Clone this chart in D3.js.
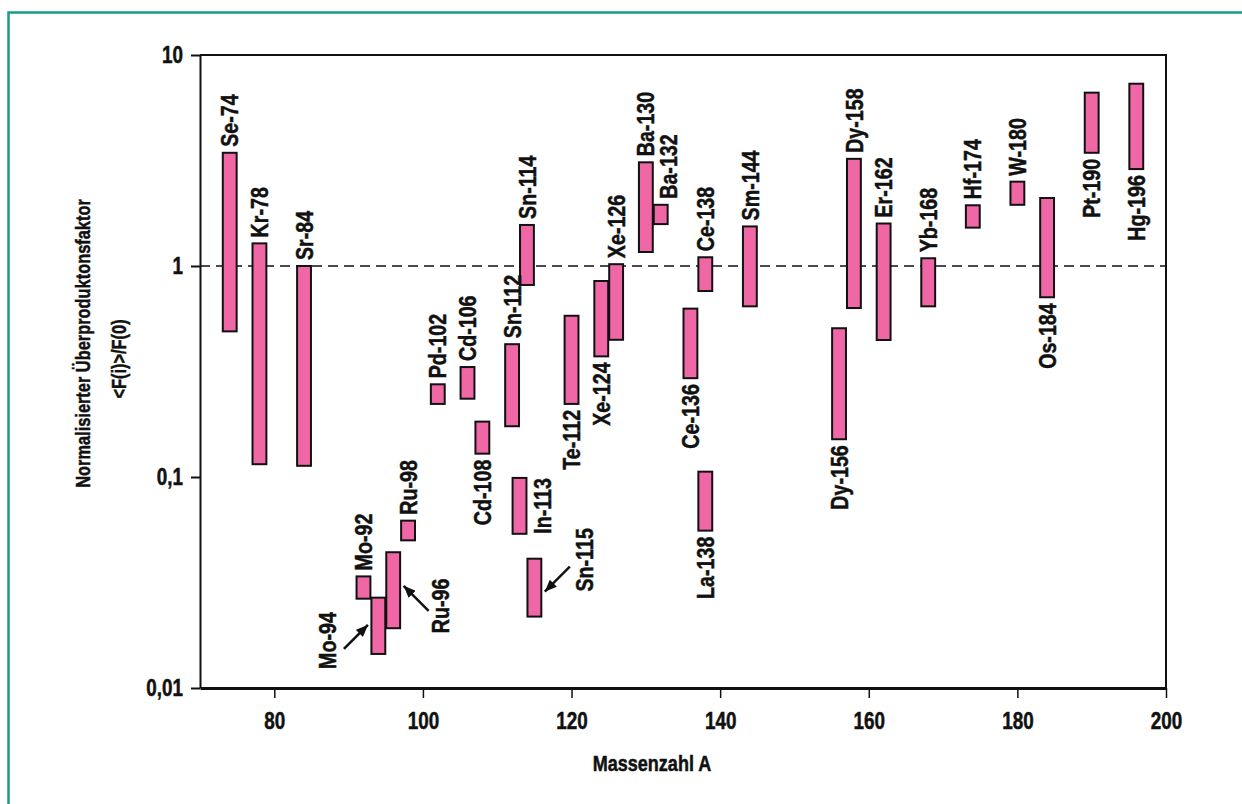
<!DOCTYPE html>
<html>
<head>
<meta charset="utf-8">
<script src="https://cdnjs.cloudflare.com/ajax/libs/d3/7.8.5/d3.min.js"></script>
<style>
  html, body { margin: 0; padding: 0; background: #fff; }
  svg { display: block; }
  text { font-family: "Liberation Sans", Arial, sans-serif; font-weight: bold; fill: #111;
         stroke: #111; stroke-width: 0.5px; }
</style>
</head>
<body>
<div id="chart"></div>
<script>
// p-Kerne: Bereich des Überproduktionsfaktors je Isotop
const isotopes = ["Se-74","Kr-78","Sr-84","Mo-92","Mo-94","Ru-96","Ru-98","Pd-102","Cd-106","Cd-108",
  "Sn-112","In-113","Sn-114","Sn-115","Te-112","Xe-124","Xe-126","Ba-130","Ba-132","Ce-136",
  "Ce-138","La-138","Sm-144","Dy-156","Dy-158","Er-162","Yb-168","Hf-174","W-180","Os-184","Pt-190","Hg-196"];
const massNumbers = [74,78,84,92,94,96,98,102,106,108,112,113,114,115,120,124,126,130,132,136,
  138,138,144,156,158,162,168,174,180,184,190,196];
const upperValues = [3.44,1.28,1.0,0.0338,0.0268,0.044,0.0621,0.275,0.332,0.183,
  0.426,0.099,1.565,0.041,0.581,0.849,1.02,3.10,1.95,0.628,
  1.10,0.106,1.54,0.507,3.22,1.59,1.088,1.94,2.51,2.10,6.63,7.31];
const lowerValues = [0.49,0.115,0.113,0.0265,0.0145,0.0192,0.0501,0.222,0.235,0.129,
  0.174,0.0538,0.813,0.0218,0.222,0.373,0.447,1.165,1.58,0.294,
  0.761,0.0557,0.644,0.151,0.632,0.446,0.644,1.52,1.95,0.711,3.44,2.88];

const xTicks = [80,100,120,140,160,180,200];
const yTicks = [0.01,0.1,1,10];
const yTickLabels = ["0,01","0,1","1","10"];

const width = 1242, height = 804;
const margin = {top: 55, right: 76, bottom: 116, left: 200};
const narrow = 0.82; // no condensed font installed, squeeze the bold sans instead

// labels that sit under their bar instead of on top
const labelsBelow = ["Cd-108","Te-112","Xe-124","Ce-136","La-138","Dy-156","Os-184","Pt-190","Hg-196"];
// labels moved beside the bar (dx in px from bar centre, base = where the text starts)
const labelsAside = {
  "In-113": {dx: 23, base: "bottom", dy: 0},
  "Sn-115": {dx: 50, base: "bottom", dy: -25},
  "Ru-96":  {dx: 47, base: "bottom", dy: 5},
  "Mo-94":  {dx: -51, base: "bottom", dy: 15},
  "Ba-132": {dx: 8, base: "top", dy: 0}
};
// arrows from a label to its bar: side of the bar, value where it hits, tail offset
const arrows = [
  {name: "Mo-94", side: -1, at: 0.0199, dx: -24, dy: 24},
  {name: "Ru-96", side: 1, at: 0.0305, dx: 25, dy: 25},
  {name: "Sn-115", side: 1, at: 0.0286, dx: 25, dy: -25}
];

const data = isotopes.map((name, i) => ({
  name: name, mass: massNumbers[i], hi: upperValues[i], lo: lowerValues[i]
}));

const svg = d3.select("#chart").append("svg")
  .attr("width", width)
  .attr("height", height);

// teal page frame
svg.append("rect")
  .attr("x", 8.5).attr("y", 12.5)
  .attr("width", 1400).attr("height", 1000)
  .attr("fill", "none")
  .attr("stroke", "#1b998b")
  .attr("stroke-width", 2.5);

const x = d3.scaleLinear().domain([70, 200]).range([margin.left, width - margin.right]);
const y = d3.scaleLog().domain([0.01, 10]).range([height - margin.bottom, margin.top]);

// frame top + right
svg.append("path")
  .attr("d", `M${x(70)},${y(10)}H${x(200)}V${y(0.01)}`)
  .attr("fill", "none")
  .attr("stroke", "#111")
  .attr("stroke-width", 2);

// dashed reference line at 1
svg.append("line")
  .attr("x1", x(70)).attr("x2", x(200))
  .attr("y1", y(1)).attr("y2", y(1))
  .attr("stroke", "#111")
  .attr("stroke-width", 1.3)
  .attr("stroke-dasharray", "10,6");

// y axis
const yAxis = svg.append("g")
  .attr("transform", `translate(${x(70)},0)`)
  .call(d3.axisLeft(y).tickValues(yTicks).tickSize(9).tickSizeOuter(0).tickPadding(8)
    .tickFormat((d, i) => yTickLabels[i]));
yAxis.select(".domain").attr("stroke", "#111").attr("stroke-width", 2);
yAxis.selectAll(".tick line").attr("stroke", "#111").attr("stroke-width", 2);
yAxis.selectAll(".tick text")
  .style("font-size", "23px").attr("fill", "#111")
  .attr("x", -17 / narrow)
  .attr("transform", `scale(${narrow},1)`);

// x axis
const xAxis = svg.append("g")
  .attr("transform", `translate(0,${y(0.01)})`)
  .call(d3.axisBottom(x).tickValues(xTicks).tickSize(10).tickSizeOuter(0).tickPadding(15));
xAxis.select(".domain").attr("stroke", "#111").attr("stroke-width", 3);
xAxis.selectAll(".tick line").attr("stroke", "#111").attr("stroke-width", 1.5);
xAxis.selectAll(".tick text")
  .style("font-size", "23px").attr("fill", "#111")
  .attr("transform", `scale(${narrow},1)`);

// bars (A-1 .. A+1)
svg.append("g")
  .selectAll("rect")
  .data(data)
  .enter().append("rect")
    .attr("x", d => x(d.mass - 1) + 0.5)
    .attr("width", d => x(d.mass + 1) - x(d.mass - 1) - 1)
    .attr("y", d => y(d.hi))
    .attr("height", d => y(d.lo) - y(d.hi))
    .attr("fill", "#f067a6")
    .attr("stroke", "#111")
    .attr("stroke-width", 2);

// isotope labels, rotated
const gap = 6;
svg.append("g")
  .selectAll("text")
  .data(data)
  .enter().append("text")
    .attr("transform", d => {
      const cx = x(d.mass);
      const aside = labelsAside[d.name];
      let tx = cx, ty = y(d.hi) - gap;
      if (aside) {
        tx = cx + aside.dx;
        ty = (aside.base === "bottom" ? y(d.lo) : y(d.hi) - gap) + aside.dy;
      } else if (labelsBelow.includes(d.name)) {
        ty = y(d.lo) + gap;
      }
      return `translate(${tx},${ty}) rotate(-90) scale(${narrow},1)`;
    })
    .attr("text-anchor", d => (labelsBelow.includes(d.name) && !labelsAside[d.name]) ? "end" : "start")
    .attr("dy", "0.36em")
    .style("font-size", "24px")
    .text(d => d.name);

// arrows
const defs = svg.append("defs");
defs.append("marker")
  .attr("id", "head")
  .attr("markerUnits", "userSpaceOnUse")
  .attr("viewBox", "0 0 12 10")
  .attr("refX", 12).attr("refY", 5)
  .attr("markerWidth", 12).attr("markerHeight", 10)
  .attr("orient", "auto")
  .append("path")
    .attr("d", "M0,0L12,5L0,10Z")
    .attr("fill", "#111");

const massOf = name => massNumbers[isotopes.indexOf(name)];
svg.append("g")
  .selectAll("line")
  .data(arrows)
  .enter().append("line")
    .attr("x1", d => x(massOf(d.name) + d.side) + d.side * 3 + d.dx)
    .attr("y1", d => y(d.at) + d.dy)
    .attr("x2", d => x(massOf(d.name) + d.side) + d.side * 3)
    .attr("y2", d => y(d.at))
    .attr("stroke", "#111")
    .attr("stroke-width", 2.5)
    .attr("marker-end", "url(#head)");

// axis titles
svg.append("text")
  .attr("transform", `translate(652,771) scale(${narrow},1)`)
  .attr("text-anchor", "middle")
  .style("font-size", "22px")
  .text("Massenzahl A");

svg.append("text")
  .attr("transform", `translate(83,343.5) rotate(-90) scale(${narrow},1)`)
  .attr("text-anchor", "middle")
  .attr("dy", "0.36em")
  .style("font-size", "20px")
  .text("Normalisierter Überproduktonsfaktor");

svg.append("text")
  .attr("transform", `translate(119,359) rotate(-90) scale(${narrow},1)`)
  .attr("text-anchor", "middle")
  .attr("dy", "0.36em")
  .style("font-size", "20px")
  .text("<F(i)>/F(0)");
</script>
</body>
</html>
